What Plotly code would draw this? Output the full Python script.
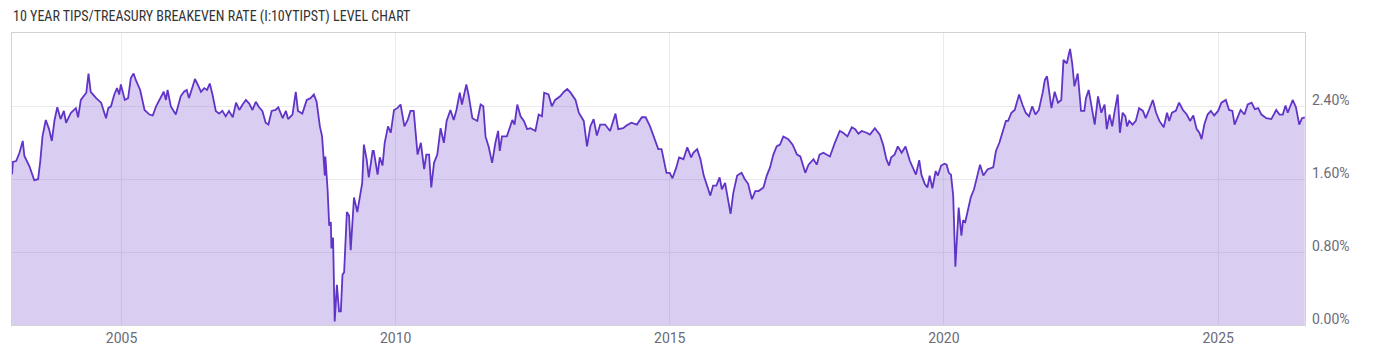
import pandas as pd
import plotly.graph_objects as go

TITLE = "10 YEAR TIPS/TREASURY BREAKEVEN RATE (I:10YTIPST) LEVEL CHART"

# decimal-year positions of the readings
years = [
    2003.005, 2003.02, 2003.08, 2003.14, 2003.20, 2003.23, 2003.32, 2003.41, 2003.48, 2003.52,
    2003.56, 2003.62, 2003.68, 2003.73, 2003.78, 2003.83, 2003.89, 2003.95, 2003.99, 2004.08,
    2004.17, 2004.21, 2004.26, 2004.31, 2004.36, 2004.40, 2004.44, 2004.54, 2004.63, 2004.72,
    2004.76, 2004.81, 2004.87, 2004.92, 2004.96, 2004.99, 2005.06, 2005.12, 2005.17, 2005.22,
    2005.26, 2005.34, 2005.42, 2005.51, 2005.57, 2005.63, 2005.72, 2005.77, 2005.81, 2005.84,
    2005.90, 2005.99, 2006.08, 2006.14, 2006.19, 2006.23, 2006.30, 2006.34, 2006.39, 2006.45,
    2006.51, 2006.56, 2006.61, 2006.66, 2006.72, 2006.78, 2006.84, 2006.90, 2006.96, 2007.03,
    2007.09, 2007.15, 2007.21, 2007.27, 2007.33, 2007.39, 2007.45, 2007.51, 2007.57, 2007.63,
    2007.68, 2007.74, 2007.81, 2007.86, 2007.94, 2008.00, 2008.04, 2008.12, 2008.18, 2008.22,
    2008.30, 2008.38, 2008.45, 2008.51, 2008.56, 2008.62, 2008.66, 2008.71, 2008.72, 2008.76,
    2008.79, 2008.82, 2008.83, 2008.86, 2008.89, 2008.93, 2008.97, 2009.00, 2009.03, 2009.06,
    2009.11, 2009.15, 2009.18, 2009.24, 2009.30, 2009.35, 2009.39, 2009.42, 2009.47, 2009.51,
    2009.58, 2009.60, 2009.67, 2009.71, 2009.76, 2009.80, 2009.86, 2009.91, 2009.97, 2010.03,
    2010.09, 2010.16, 2010.22, 2010.27, 2010.33, 2010.40, 2010.46, 2010.52, 2010.56, 2010.61,
    2010.65, 2010.70, 2010.76, 2010.82, 2010.88, 2010.93, 2011.00, 2011.06, 2011.11, 2011.17,
    2011.21, 2011.29, 2011.33, 2011.40, 2011.49, 2011.55, 2011.60, 2011.64, 2011.70, 2011.76,
    2011.82, 2011.87, 2011.90, 2011.94, 2012.03, 2012.13, 2012.17, 2012.22, 2012.28, 2012.34,
    2012.40, 2012.46, 2012.55, 2012.61, 2012.67, 2012.71, 2012.79, 2012.85, 2012.91, 2013.00,
    2013.07, 2013.13, 2013.19, 2013.28, 2013.34, 2013.43, 2013.49, 2013.55, 2013.61, 2013.67,
    2013.73, 2013.82, 2013.91, 2014.01, 2014.06, 2014.15, 2014.21, 2014.30, 2014.40, 2014.49,
    2014.56, 2014.64, 2014.73, 2014.79, 2014.85, 2014.94, 2015.00, 2015.05, 2015.12, 2015.17,
    2015.25, 2015.32, 2015.39, 2015.43, 2015.50, 2015.56, 2015.62, 2015.68, 2015.74, 2015.79,
    2015.85, 2015.91, 2015.95, 2016.01, 2016.06, 2016.11, 2016.16, 2016.23, 2016.31, 2016.37,
    2016.43, 2016.50, 2016.56, 2016.62, 2016.71, 2016.77, 2016.83, 2016.89, 2016.95, 2017.01,
    2017.07, 2017.16, 2017.24, 2017.32, 2017.38, 2017.47, 2017.53, 2017.62, 2017.68, 2017.73,
    2017.80, 2017.86, 2017.92, 2018.01, 2018.10, 2018.16, 2018.24, 2018.32, 2018.38, 2018.44,
    2018.50, 2018.59, 2018.65, 2018.74, 2018.83, 2018.89, 2018.95, 2019.00, 2019.04, 2019.10,
    2019.16, 2019.23, 2019.30, 2019.38, 2019.44, 2019.49, 2019.55, 2019.59, 2019.65, 2019.70,
    2019.74, 2019.79, 2019.85, 2019.89, 2019.95, 2020.01, 2020.05, 2020.09, 2020.13, 2020.17,
    2020.21, 2020.24, 2020.27, 2020.32, 2020.35, 2020.39, 2020.43, 2020.49, 2020.55, 2020.61,
    2020.66, 2020.72, 2020.80, 2020.90, 2020.95, 2021.01, 2021.07, 2021.13, 2021.17, 2021.23,
    2021.29, 2021.37, 2021.43, 2021.49, 2021.55, 2021.61, 2021.67, 2021.73, 2021.80, 2021.84,
    2021.88, 2021.91, 2021.96, 2022.02, 2022.08, 2022.14, 2022.18, 2022.24, 2022.30, 2022.34,
    2022.38, 2022.44, 2022.50, 2022.56, 2022.59, 2022.64, 2022.69, 2022.75, 2022.81, 2022.87,
    2022.93, 2022.97, 2023.02, 2023.07, 2023.11, 2023.17, 2023.21, 2023.26, 2023.31, 2023.34,
    2023.38, 2023.44, 2023.50, 2023.56, 2023.63, 2023.68, 2023.74, 2023.81, 2023.87, 2023.93,
    2024.01, 2024.07, 2024.11, 2024.16, 2024.23, 2024.29, 2024.36, 2024.43, 2024.49, 2024.55,
    2024.61, 2024.66, 2024.70, 2024.75, 2024.81, 2024.87, 2024.93, 2025.00, 2025.06, 2025.14,
    2025.20, 2025.26, 2025.30, 2025.36, 2025.41, 2025.48, 2025.54, 2025.61, 2025.67, 2025.73,
    2025.79, 2025.88, 2025.97, 2026.06, 2026.12, 2026.18, 2026.23, 2026.27, 2026.32, 2026.36,
    2026.42, 2026.48, 2026.53, 2026.58,
]

# breakeven rate, percent
rates = [
    1.655, 1.79, 1.80, 1.89, 2.02, 1.855, 1.745, 1.59, 1.60, 1.80,
    2.07, 2.25, 2.15, 2.02, 2.25, 2.39, 2.26, 2.35, 2.22, 2.33,
    2.38, 2.28, 2.47, 2.51, 2.55, 2.76, 2.56, 2.49, 2.44, 2.27,
    2.38, 2.40, 2.53, 2.60, 2.53, 2.64, 2.47, 2.49, 2.71, 2.76,
    2.69, 2.58, 2.36, 2.31, 2.30, 2.40, 2.51, 2.56, 2.47, 2.58,
    2.40, 2.31, 2.51, 2.56, 2.58, 2.49, 2.62, 2.70, 2.64, 2.56,
    2.60, 2.58, 2.65, 2.53, 2.35, 2.32, 2.35, 2.29, 2.35, 2.28,
    2.44, 2.36, 2.42, 2.47, 2.43, 2.36, 2.45, 2.39, 2.35, 2.22,
    2.20, 2.35, 2.36, 2.39, 2.27, 2.35, 2.26, 2.31, 2.56, 2.35,
    2.32, 2.47, 2.49, 2.53, 2.45, 2.18, 2.07, 1.64, 1.85, 1.49,
    1.09, 1.13, 0.84, 0.96, 0.04, 0.44, 0.15, 0.15, 0.55, 0.58,
    1.24, 1.20, 0.82, 1.40, 1.24, 1.45, 1.56, 1.98, 1.82, 1.62,
    1.91, 1.91, 1.65, 1.84, 1.75, 2.00, 2.18, 2.11, 2.36, 2.38,
    2.42, 2.18, 2.25, 2.35, 2.35, 1.87, 2.00, 1.71, 1.87, 1.87,
    1.51, 1.78, 1.87, 2.16, 2.00, 2.24, 2.36, 2.25, 2.36, 2.55,
    2.42, 2.64, 2.53, 2.27, 2.24, 2.42, 2.40, 2.07, 1.95, 1.78,
    2.00, 2.13, 1.91, 2.07, 2.07, 2.25, 2.20, 2.42, 2.29, 2.24,
    2.15, 2.16, 2.13, 2.31, 2.29, 2.55, 2.53, 2.40, 2.47, 2.51,
    2.56, 2.59, 2.55, 2.47, 2.33, 2.24, 1.96, 2.18, 2.26, 2.08,
    2.20, 2.20, 2.13, 2.32, 2.15, 2.16, 2.19, 2.22, 2.20, 2.28,
    2.28, 2.18, 2.04, 1.93, 1.93, 1.67, 1.67, 1.61, 1.73, 1.84,
    1.82, 1.95, 1.84, 1.89, 1.93, 1.82, 1.64, 1.53, 1.42, 1.53,
    1.53, 1.62, 1.49, 1.56, 1.38, 1.22, 1.45, 1.64, 1.67, 1.60,
    1.55, 1.38, 1.47, 1.47, 1.51, 1.64, 1.73, 1.87, 1.96, 1.98,
    2.07, 2.04, 1.98, 1.87, 1.85, 1.67, 1.76, 1.82, 1.76, 1.87,
    1.89, 1.87, 1.85, 2.00, 2.13, 2.11, 2.07, 2.17, 2.15, 2.10,
    2.13, 2.11, 2.09, 2.16, 2.09, 1.98, 1.82, 1.75, 1.84, 1.87,
    1.96, 1.89, 1.96, 1.80, 1.71, 1.65, 1.81, 1.65, 1.55, 1.51,
    1.64, 1.50, 1.69, 1.64, 1.75, 1.77, 1.76, 1.67, 1.65, 1.42,
    0.64, 0.91, 1.29, 0.98, 1.15, 1.13, 1.25, 1.40, 1.49, 1.64,
    1.76, 1.64, 1.71, 1.73, 1.91, 2.00, 2.13, 2.24, 2.24, 2.33,
    2.36, 2.53, 2.42, 2.33, 2.29, 2.40, 2.31, 2.36, 2.55, 2.69,
    2.73, 2.58, 2.38, 2.56, 2.44, 2.47, 2.91, 2.87, 3.03, 2.87,
    2.62, 2.76, 2.35, 2.35, 2.49, 2.58, 2.42, 2.20, 2.51, 2.33,
    2.42, 2.15, 2.31, 2.18, 2.33, 2.53, 2.11, 2.33, 2.29, 2.18,
    2.24, 2.20, 2.24, 2.38, 2.35, 2.27, 2.36, 2.47, 2.33, 2.24,
    2.17, 2.33, 2.24, 2.33, 2.35, 2.44, 2.36, 2.31, 2.24, 2.30,
    2.15, 2.11, 2.04, 2.20, 2.31, 2.35, 2.30, 2.35, 2.44, 2.47,
    2.36, 2.35, 2.20, 2.28, 2.36, 2.31, 2.42, 2.44, 2.37, 2.38,
    2.31, 2.27, 2.26, 2.36, 2.31, 2.31, 2.41, 2.33, 2.42, 2.47,
    2.39, 2.20, 2.27, 2.28,
]

x_start, x_end = 2003.004, 2026.585
y_min, y_max = 0.0, 3.205
y_ticks = [0.0, 0.8, 1.6, 2.4]
y_tick_text = ["0.00%", "0.80%", "1.60%", "2.40%"]
x_tick_years = [2005, 2010, 2015, 2020, 2025]
x_tick_text = ["2005", "2010", "2015", "2020", "2025"]


def to_date(y):
    base = int(y)
    return pd.Timestamp(f"{base}-01-01") + pd.Timedelta(days=(y - base) * 365.25)


dates = [to_date(y) for y in years]

LINE = "#6134c8"
FONT = "Roboto, 'Noto Sans', sans-serif"
LABEL_COLOR = "#6b6b78"

fig = go.Figure()
fig.add_trace(go.Scatter(
    x=dates, y=rates, mode="lines",
    line=dict(color=LINE, width=1.8),
    fill="tozeroy", fillcolor="rgba(104,58,204,0.25)",
    hoverinfo="skip", showlegend=False,
))

annotations = [dict(
    text=TITLE, xref="paper", yref="paper", x=0, y=1.0,
    xanchor="left", yanchor="bottom", yshift=6, xshift=-1, showarrow=False,
    font=dict(size=14, color="#333333",
              family="'Roboto Condensed', 'Liberation Sans Narrow', 'DejaVu Sans Condensed', Roboto"),
)]
# right-hand value labels, sitting slightly above their grid lines
for v, t in zip(y_ticks, y_tick_text):
    annotations.append(dict(
        text=t, xref="paper", yref="y", x=1.0, y=v,
        xanchor="left", yanchor="middle", xshift=5, yshift=6, showarrow=False,
        font=dict(size=14, color=LABEL_COLOR, family=FONT),
    ))

fig.update_layout(
    width=1400, height=357,
    margin=dict(l=11, r=95, t=33, b=30),
    paper_bgcolor="white", plot_bgcolor="white",
    font=dict(family=FONT, color=LABEL_COLOR),
    showlegend=False,
    xaxis=dict(
        type="date",
        range=[to_date(x_start), to_date(x_end)],
        tickvals=[to_date(y) for y in x_tick_years], ticktext=x_tick_text,
        showgrid=True, gridcolor="#ebebeb", gridwidth=1,
        showline=True, linecolor="#d2d2d2", linewidth=1, mirror=True,
        ticks="", zeroline=False,
        tickfont=dict(size=14, color=LABEL_COLOR, family=FONT),
    ),
    yaxis=dict(
        side="right",
        range=[y_min, y_max],
        tickvals=y_ticks, showticklabels=False,
        showgrid=True, gridcolor="#ebebeb", gridwidth=1,
        showline=True, linecolor="#d2d2d2", linewidth=1, mirror=True,
        ticks="", zeroline=False,
    ),
    annotations=annotations,
)

fig.write_html("out.html")
